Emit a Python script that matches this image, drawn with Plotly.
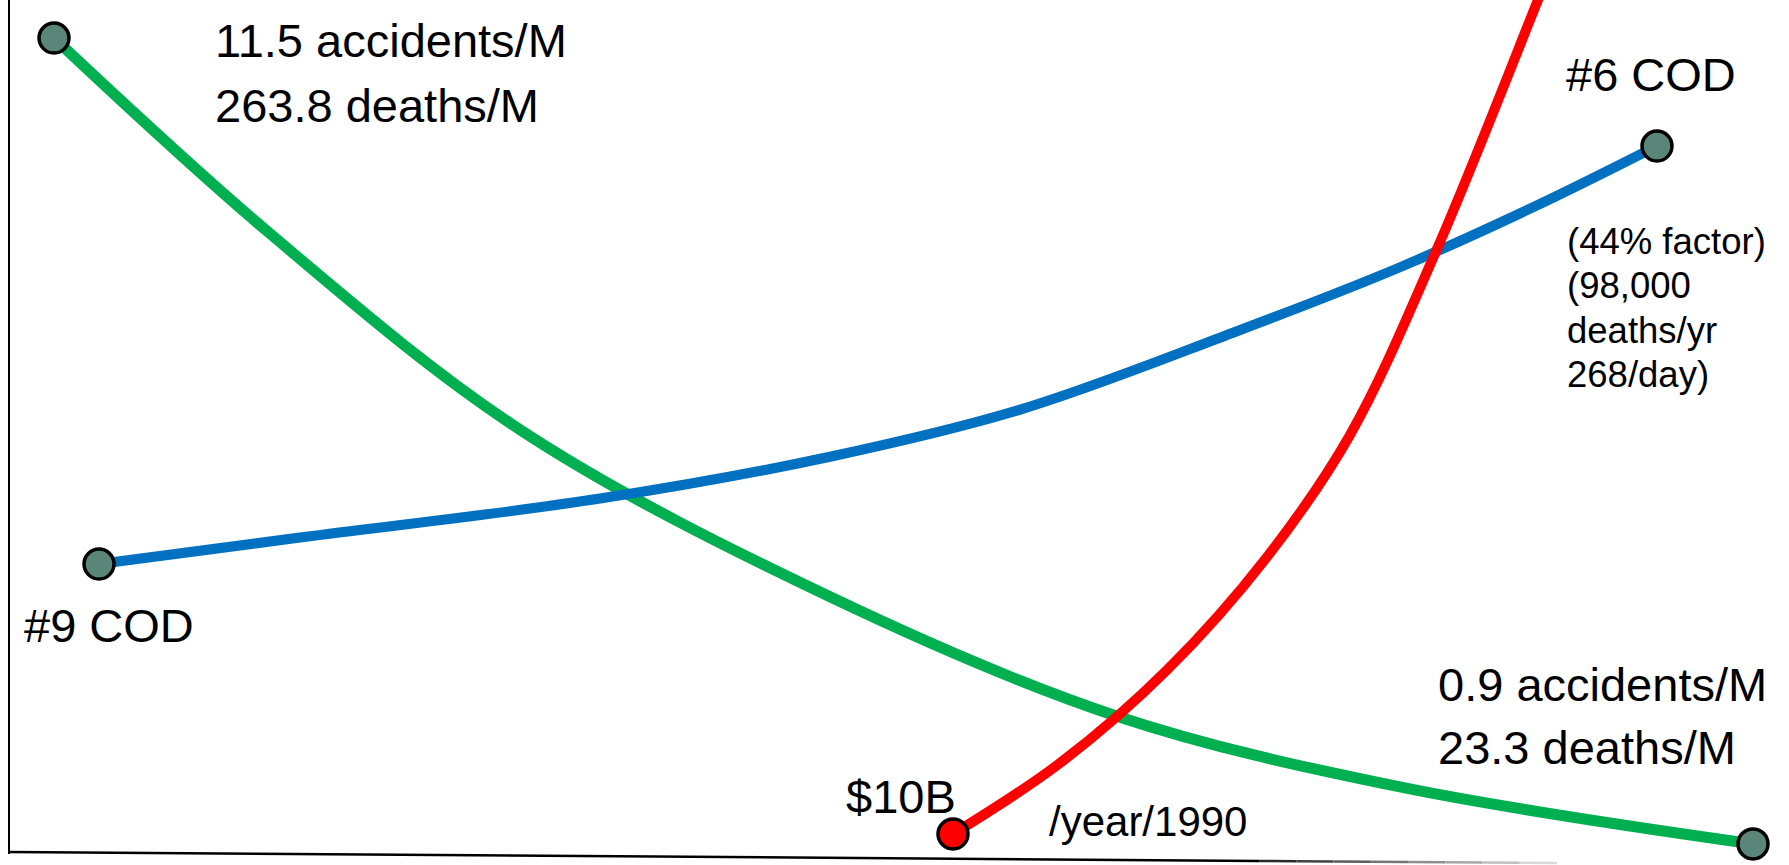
import plotly.graph_objects as go

# ---- data -------------------------------------------------------------
# Shared horizontal axis: unlabelled time scale
green_x = [45, 259, 512, 821, 1108, 1391, 1744]
# Accident rate, accidents per million
green_accidents = [11.5, 8.95, 6.34, 4.15, 2.58, 1.65, 0.9]
# Death rate at the two ends of the accident curve, deaths per million
green_deaths = [263.8, 23.3]

# Cause-of-death ranking
blue_x = [90, 291, 591, 821, 1012, 1224, 1391, 1524, 1648]
blue_rank = [9, 8.81, 8.53, 8.23, 7.89, 7.34, 6.87, 6.44, 6]

# Yearly cost, billions of dollars
red_x = [944, 1051, 1158, 1258, 1341, 1428, 1529, 1551]
red_cost = [10, 49.4, 101.1, 163.9, 231.7, 335, 473.3, 503.9]

cost_note = "/year/1990"
rank_note = ["(44% factor)", "(98,000", "deaths/yr", "268/day)"]

# ---- styles -----------------------------------------------------------
GREEN = "#00b050"
BLUE = "#0070c0"
RED = "#ff0000"
DOT = "#5a8579"
FONT = "Liberation Sans, Arial, sans-serif"
W, H = 1789, 865

fig = go.Figure()

fig.add_trace(go.Scatter(x=green_x, y=green_accidents, yaxis="y2", mode="lines",
                         line=dict(color=GREEN, width=11, shape="spline", smoothing=1),
                         hoverinfo="skip"))
fig.add_trace(go.Scatter(x=blue_x, y=blue_rank, yaxis="y3", mode="lines",
                         line=dict(color=BLUE, width=10, shape="spline", smoothing=1),
                         hoverinfo="skip"))
fig.add_trace(go.Scatter(x=red_x, y=red_cost, yaxis="y4", mode="lines",
                         line=dict(color=RED, width=10, shape="spline", smoothing=1),
                         hoverinfo="skip"))

dot = dict(size=30, line=dict(color="black", width=3.5))
fig.add_trace(go.Scatter(x=[green_x[0], green_x[-1]],
                         y=[green_accidents[0], green_accidents[-1]],
                         yaxis="y2", mode="markers",
                         marker=dict(color=DOT, **dot), hoverinfo="skip"))
fig.add_trace(go.Scatter(x=[blue_x[0], blue_x[-1]],
                         y=[blue_rank[0], blue_rank[-1]],
                         yaxis="y3", mode="markers",
                         marker=dict(color=DOT, **dot), hoverinfo="skip"))
fig.add_trace(go.Scatter(x=[red_x[0]], y=[red_cost[0]],
                         yaxis="y4", mode="markers",
                         marker=dict(color=RED, **dot), hoverinfo="skip"))

# ---- axis frame: vertical axis and a slightly tilted baseline ----------
shapes = [dict(type="line", xref="x", yref="y", x0=0, x1=0, y0=-2, y1=860,
               line=dict(color="black", width=2))]
base_end, base_drop, fade_start = 1548, -11, 1250
shapes.append(dict(type="line", xref="x", yref="y", x0=0, y0=0,
                   x1=fade_start, y1=base_drop * fade_start / base_end,
                   line=dict(color="black", width=2.5)))
n = 8
for i in range(n):
    xa = fade_start + (base_end - fade_start) * i / n
    xb = fade_start + (base_end - fade_start) * (i + 1) / n
    g = int(30 + 200 * (i + 0.5) / n)
    shapes.append(dict(type="line", xref="x", yref="y",
                       x0=xa, y0=base_drop * xa / base_end,
                       x1=xb, y1=base_drop * xb / base_end,
                       line=dict(color=f"rgb({g},{g},{g})", width=2.5)))


def label(text, x, y, size=47):
    return dict(text=text, x=x, y=y, xref="x", yref="y", xanchor="left",
                yanchor="middle", showarrow=False,
                font=dict(family=FONT, size=size, color="black"))


def num(v):
    return f"{v:g}"


annotations = [
    label(f"{num(green_accidents[0])} accidents/M", 204, 811.5),
    label(f"{num(green_deaths[0])} deaths/M", 204, 746.5),
    label(f"{num(green_accidents[-1])} accidents/M", 1427, 168),
    label(f"{num(green_deaths[-1])} deaths/M", 1427, 104.5),
    label(f"#{num(blue_rank[0])} COD", 13, 227),
    label(f"#{num(blue_rank[-1])} COD", 1555, 777.5),
    label(f"${num(red_cost[0])}B", 835, 56),
    label(cost_note, 1038, 31, size=42),
]
for i, line in enumerate(rank_note):
    annotations.append(label(line, 1556, 611 - 44.5 * i, size=36.5))

hidden = dict(visible=False, showgrid=False, zeroline=False, fixedrange=True)
fig.update_layout(
    width=W, height=H,
    margin=dict(l=0, r=0, t=0, b=0),
    paper_bgcolor="white", plot_bgcolor="white",
    showlegend=False,
    xaxis=dict(range=[-9, 1780], domain=[0, 1], **hidden),
    yaxis=dict(range=[-13, 852], domain=[0, 1], **hidden),
    yaxis2=dict(range=[0.623, 12.0], overlaying="y", **hidden),
    yaxis3=dict(range=[11.16, 4.952], overlaying="y", **hidden),
    yaxis4=dict(range=[-7.22, 473.3], overlaying="y", **hidden),
    shapes=shapes,
    annotations=annotations,
)

fig.write_html("out.html")
